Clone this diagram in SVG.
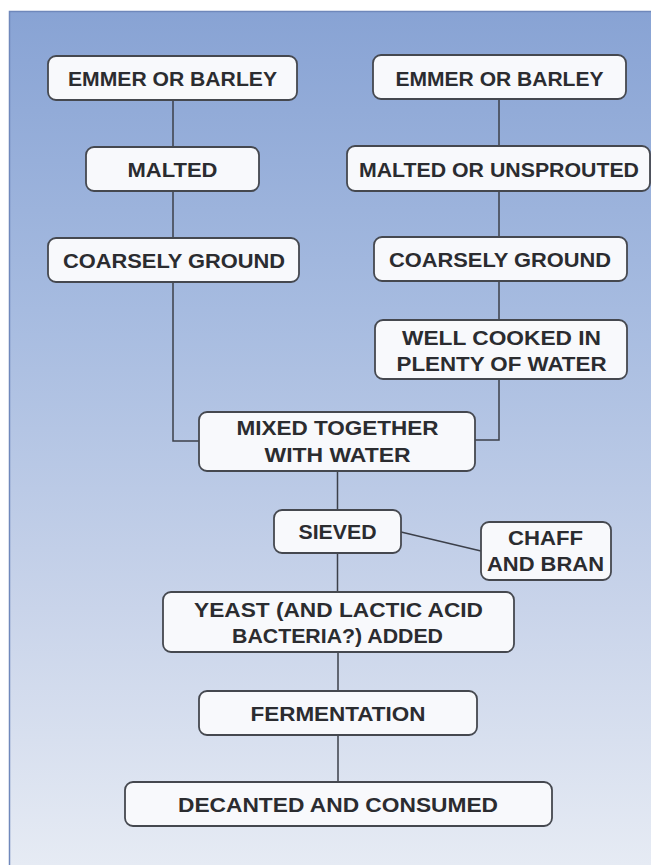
<svg xmlns="http://www.w3.org/2000/svg" width="651" height="865" viewBox="0 0 651 865">
<defs>
<linearGradient id="bg" x1="0" y1="0" x2="0" y2="1">
<stop offset="0" stop-color="#88a3d4"/>
<stop offset="0.35" stop-color="#a6bbe0"/>
<stop offset="0.7" stop-color="#c9d4ea"/>
<stop offset="1" stop-color="#e6ebf4"/>
</linearGradient>
<style>
.box{fill:#f8f9fc;stroke:#45484f;stroke-width:1.8}
.t{font-family:"Liberation Sans",Arial,sans-serif;font-weight:bold;font-size:21px;fill:#2b2c30;text-anchor:middle}
.c{fill:none;stroke:#3c404a;stroke-width:1.5}
</style>
</defs>
<rect x="0" y="0" width="651" height="865" fill="#ffffff"/>
<rect x="9" y="11" width="642" height="854" fill="url(#bg)"/>
<path d="M9.5 865 V11.5 H651" fill="none" stroke="#6f88bb" stroke-width="1.5"/>
<g id="connectors">
<path class="c" d="M173 100 V147 M173 191 V238 M173 282 V441 H199"/>
<path class="c" d="M499 99 V146 M499 191 V237 M499 281 V320 M499 379 V440 H475"/>
<path class="c" d="M337.5 471 V510 M337.5 553 V592 M338 652 V691 M338 735 V782"/>
<path class="c" d="M401 532 L481 551"/>
</g>
<g id="n1"><rect class="box" x="48" y="56" width="249" height="44" rx="8"/><text class="t" x="172.5" y="86" textLength="209" lengthAdjust="spacingAndGlyphs">EMMER OR BARLEY</text></g>
<g id="n2"><rect class="box" x="373" y="55" width="253" height="44" rx="8"/><text class="t" x="499.5" y="85.5" textLength="208" lengthAdjust="spacingAndGlyphs">EMMER OR BARLEY</text></g>
<g id="n3"><rect class="box" x="86" y="147" width="173" height="44" rx="8"/><text class="t" x="172.5" y="177" textLength="90" lengthAdjust="spacingAndGlyphs">MALTED</text></g>
<g id="n4"><rect class="box" x="347" y="146" width="303" height="45" rx="8"/><text class="t" x="499" y="176.5" textLength="280" lengthAdjust="spacingAndGlyphs">MALTED OR UNSPROUTED</text></g>
<g id="n5"><rect class="box" x="48" y="238" width="251" height="44" rx="8"/><text class="t" x="174" y="267.5" textLength="222" lengthAdjust="spacingAndGlyphs">COARSELY GROUND</text></g>
<g id="n6"><rect class="box" x="374" y="237" width="253" height="44" rx="8"/><text class="t" x="500" y="267" textLength="222" lengthAdjust="spacingAndGlyphs">COARSELY GROUND</text></g>
<g id="n7"><rect class="box" x="375" y="320" width="252" height="59" rx="8"/><text class="t" x="501.5" y="345" textLength="199" lengthAdjust="spacingAndGlyphs">WELL COOKED IN</text><text class="t" x="501.5" y="371" textLength="210" lengthAdjust="spacingAndGlyphs">PLENTY OF WATER</text></g>
<g id="n8"><rect class="box" x="199" y="412" width="276" height="59" rx="8"/><text class="t" x="337.5" y="435" textLength="202" lengthAdjust="spacingAndGlyphs">MIXED TOGETHER</text><text class="t" x="337.5" y="462" textLength="146" lengthAdjust="spacingAndGlyphs">WITH WATER</text></g>
<g id="n9"><rect class="box" x="274" y="510" width="127" height="43" rx="8"/><text class="t" x="337.5" y="538.5" textLength="78" lengthAdjust="spacingAndGlyphs">SIEVED</text></g>
<g id="n10"><rect class="box" x="481" y="522" width="130" height="58" rx="8"/><text class="t" x="545.5" y="545" textLength="75" lengthAdjust="spacingAndGlyphs">CHAFF</text><text class="t" x="545.5" y="571" textLength="117" lengthAdjust="spacingAndGlyphs">AND BRAN</text></g>
<g id="n11"><rect class="box" x="163" y="592" width="351" height="60" rx="8"/><text class="t" x="338.5" y="617" textLength="289" lengthAdjust="spacingAndGlyphs">YEAST (AND LACTIC ACID</text><text class="t" x="337.5" y="643" textLength="211" lengthAdjust="spacingAndGlyphs">BACTERIA?) ADDED</text></g>
<g id="n12"><rect class="box" x="199" y="691" width="278" height="44" rx="8"/><text class="t" x="338" y="721" textLength="175" lengthAdjust="spacingAndGlyphs">FERMENTATION</text></g>
<g id="n13"><rect class="box" x="125" y="782" width="427" height="44" rx="8"/><text class="t" x="338" y="811.5" textLength="320" lengthAdjust="spacingAndGlyphs">DECANTED AND CONSUMED</text></g>
</svg>
